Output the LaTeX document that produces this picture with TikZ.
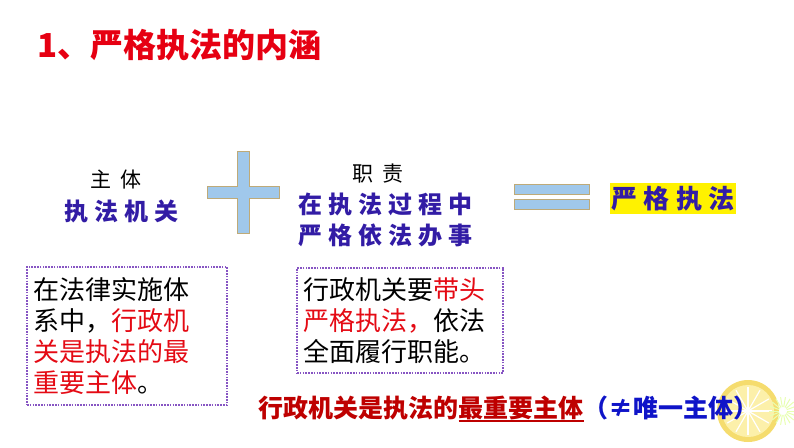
\documentclass[tikz,border=0pt]{standalone}
\usepackage{fontspec}
\setmainfont{Noto Sans CJK SC}
\newfontfamily\widecjk[LetterSpace=25]{Noto Sans CJK SC}
\definecolor{titlered}{RGB}{230,0,18}
\definecolor{deepblue}{RGB}{50,28,165}
\definecolor{barblue}{RGB}{160,200,235}
\definecolor{bartan}{RGB}{190,170,120}
\definecolor{boxpurple}{RGB}{135,85,195}
\definecolor{textred}{RGB}{228,10,20}
\definecolor{darkred}{RGB}{190,0,0}
\definecolor{noteblue}{RGB}{15,20,200}
\definecolor{lemonrim}{RGB}{245,220,110}
\definecolor{lemonpulp}{RGB}{252,240,170}
\newcommand{\ulmark}[1]{\setbox0\hbox{#1}\rlap{\rule[-4.5pt]{\wd0}{1.8pt}}\box0}

\begin{document}
\begin{tikzpicture}[x=1pt, y=-1pt,
    bar/.style={fill=barblue, draw=bartan, line width=0.8pt},
    dotbox/.style={draw=boxpurple, line width=1.6pt, dash pattern=on 1.6pt off 1.2pt,
        inner sep=0pt, align=left, font=\fontsize{26}{31}\selectfont},
    bluebold/.style={text=deepblue, anchor=west, align=left,
        font=\widecjk\bfseries\fontsize{24}{31}\selectfont}]
    \useasboundingbox (0,0) rectangle (794,447);

    \node[anchor=west, text=titlered, font=\bfseries\fontsize{33}{36}\selectfont] (title) at (34,45) {1、严格执法的内涵};

    % Subject
    \node[font=\fontsize{21}{24}\selectfont] (subjlbl) at (116,180) {主\hspace{9pt}体};
    \node[bluebold] (subj) at (61,211) {执法机关};

    % Plus sign
    \draw[bar] (237,151) -- (249,151) -- (249,186) -- (279,186) -- (279,198) -- (249,198)
        -- (249,233) -- (237,233) -- (237,198) -- (207,198) -- (207,186) -- (237,186) -- cycle;

    % Duty
    \node[font=\fontsize{21}{24}\selectfont] (dutylbl) at (378,174) {职\hspace{9pt}责};
    \node[bluebold] (duty) at (295,219.5) {在执法过程中\\严格依法办事};

    % Equals sign
    \draw[bar] (514,184) rectangle (589,194);
    \draw[bar] (514,199) rectangle (589,209);

    \node[fill=yellow, text=deepblue, inner sep=0pt, minimum width=126pt, minimum height=31pt,
        font=\widecjk\bfseries\fontsize{26}{30}\selectfont] (result) at (673,198.5) {严格执法};

    % Explanation boxes
    \node[dotbox, minimum width=200pt, minimum height=138pt, text width=188pt] (leftbox) at (127,336)
        {在法律实施体\\系中，\textcolor{textred}{行政机}\\\textcolor{textred}{关是执法的最}\\\textcolor{textred}{重要主体}。};
    \node[dotbox, minimum width=206pt, minimum height=105pt, text width=194pt] (rightbox) at (400,320.5)
        {行政机关要\textcolor{textred}{带头}\\\textcolor{textred}{严格执法，}依法\\全面履行职能。};

    % Lemon decoration
    \fill[lemonrim] (748,411) circle (31);
    \fill[lemonpulp] (748,411) circle (26);
    \foreach \a in {0,30,...,330}
        \draw[white, line width=1.2pt] (748,411) -- ++(\a:24);
    \foreach \a in {0,20,...,340}
        \draw[green!30!yellow!30, line width=1pt] (783,411) ++(\a:4) -- ++(\a:10);

    \node[anchor=west, font=\bfseries\fontsize{25}{30}\selectfont] (note) at (255,409)
        {\textcolor{darkred}{行政机关是执法的\ulmark{最重要主体}}\textcolor{noteblue}{（≠唯一主体）}};
\end{tikzpicture}
\end{document}
